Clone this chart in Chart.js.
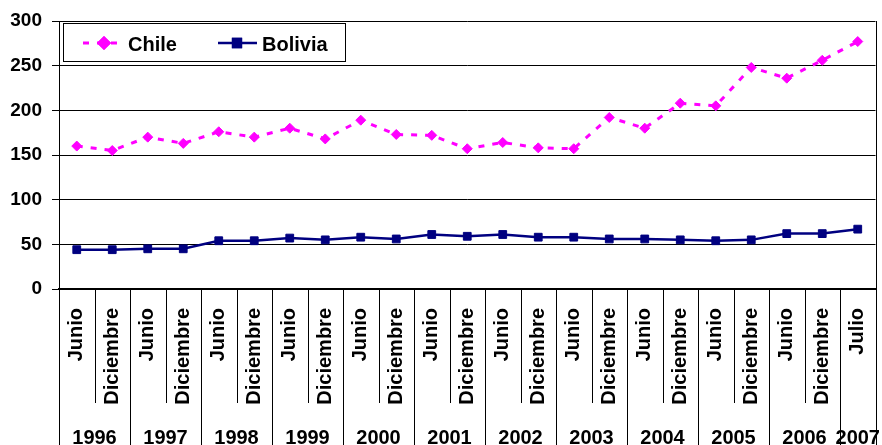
<!DOCTYPE html>
<html>
<head>
<meta charset="utf-8">
<script src="https://cdn.jsdelivr.net/npm/chart.js@4.4.0/dist/chart.umd.min.js"></script>
<style>
  html, body { margin: 0; padding: 0; background: #fff; }
  #wrap { width: 882px; height: 445px; position: relative; }
</style>
</head>
<body>
<div id="wrap"><canvas id="c" width="882" height="445"></canvas></div>
<script>
const periodLabels = ['Junio','Diciembre','Junio','Diciembre','Junio','Diciembre','Junio','Diciembre','Junio','Diciembre','Junio','Diciembre','Junio','Diciembre','Junio','Diciembre','Junio','Diciembre','Junio','Diciembre','Junio','Diciembre','Julio'];
const periodYears = ['1996','1996','1997','1997','1998','1998','1999','1999','2000','2000','2001','2001','2002','2002','2003','2003','2004','2004','2005','2005','2006','2006','2007'];
const chileValues = [160,155,170,163,176,170,180,168,189,173,172,157,164,158,157,192,180,208,205,248,236,256,277];
const boliviaValues = [44,44,45,45,54,54,57,55,58,56,61,59,61,58,58,56,56,55,54,55,62,62,67];
const yTicks = [0,50,100,150,200,250,300];
const seriesNames = ['Chile','Bolivia'];

const FONT = 'Liberation Sans, Arial, sans-serif';

const decorPlugin = {
  id: 'decor',
  afterDraw(chart) {
    const ctx = chart.ctx;
    const xs = chart.scales.x;
    const area = chart.chartArea;
    const H = chart.height;
    const n = periodLabels.length;
    ctx.save();
    ctx.strokeStyle = '#000';
    ctx.lineWidth = 1;
    // separators
    for (let i = 0; i <= n; i++) {
      const x = Math.round(xs.getPixelForValue(i - 0.5)) + 0.5;
      const yearBoundary = (i === 0 || i === n || periodYears[i] !== periodYears[i - 1]);
      const yEnd = yearBoundary ? H : area.bottom + 114;
      ctx.beginPath();
      ctx.moveTo(x, area.bottom);
      ctx.lineTo(x, yEnd);
      ctx.stroke();
    }
    // right border of plot
    ctx.beginPath();
    ctx.moveTo(Math.round(area.right) + 0.5, area.top);
    ctx.lineTo(Math.round(area.right) + 0.5, area.bottom);
    ctx.stroke();
    // year labels
    ctx.fillStyle = '#000';
    ctx.font = 'bold 20px ' + FONT;
    ctx.textAlign = 'center';
    ctx.textBaseline = 'top';
    let start = 0;
    for (let i = 1; i <= n; i++) {
      if (i === n || periodYears[i] !== periodYears[start]) {
        const x0 = xs.getPixelForValue(start - 0.5);
        const x1 = xs.getPixelForValue(i - 0.5);
        ctx.fillText(periodYears[start], (x0 + x1) / 2, 428);
        start = i;
      }
    }
    // legend box
    const bx = area.left + 4, by = area.top + 2, bw = 282, bh = 38;
    ctx.fillStyle = '#fff';
    ctx.fillRect(bx, by, bw, bh);
    ctx.strokeRect(bx + 0.5, by + 0.5, bw, bh);
    const items = [
      { lx0: 20, lx1: 57, px: 41, tx: 65 },
      { lx0: 155, lx1: 194, px: 174, tx: 199 }
    ];
    chart.data.datasets.forEach((ds, k) => {
      const it = items[k];
      const cy = by + bh / 2 + 1;
      ctx.save();
      ctx.strokeStyle = ds.borderColor;
      ctx.lineWidth = ds.borderWidth;
      ctx.setLineDash(ds.borderDash || []);
      ctx.beginPath();
      ctx.moveTo(bx + it.lx0, cy);
      ctx.lineTo(bx + it.lx1, cy);
      ctx.stroke();
      ctx.setLineDash([]);
      Chart.helpers.drawPoint(ctx, {
        pointStyle: ds.pointStyle, radius: ds.pointRadius, borderWidth: 1, rotation: 0
      }, bx + it.px, cy);
      ctx.fillStyle = ds.pointBackgroundColor;
      ctx.strokeStyle = ds.pointBorderColor;
      ctx.fill();
      ctx.stroke();
      ctx.restore();
      ctx.fillStyle = '#000';
      ctx.font = 'bold 20px ' + FONT;
      ctx.textAlign = 'left';
      ctx.textBaseline = 'middle';
      ctx.fillText(ds.label, bx + it.tx, cy + 2);
    });
    ctx.restore();
  }
};

new Chart(document.getElementById('c'), {
  type: 'line',
  data: {
    labels: periodLabels,
    datasets: [
      {
        label: seriesNames[0],
        data: chileValues,
        borderColor: '#FF00FF',
        backgroundColor: '#FF00FF',
        borderWidth: 3,
        borderDash: [6, 8],
        pointStyle: 'rectRot',
        pointRadius: 5,
        pointBackgroundColor: '#FF00FF',
        pointBorderColor: '#FF00FF',
        pointBorderWidth: 1,
        tension: 0,
        fill: false
      },
      {
        label: seriesNames[1],
        data: boliviaValues,
        borderColor: '#000080',
        backgroundColor: '#000080',
        borderWidth: 2.5,
        pointStyle: 'rect',
        pointRadius: 5.5,
        pointBackgroundColor: '#000080',
        pointBorderColor: '#000080',
        pointBorderWidth: 1,
        tension: 0,
        fill: false
      }
    ]
  },
  options: {
    responsive: false,
    animation: false,
    layout: { padding: { left: 0, right: 6, top: 21, bottom: 0 } },
    plugins: {
      legend: { display: false },
      tooltip: { enabled: false }
    },
    scales: {
      x: {
        type: 'category',
        offset: true,
        afterFit(s) { s.height = 156; s.paddingLeft = 0; s.paddingRight = 0; },
        grid: { display: false, drawTicks: false },
        border: { display: true, color: '#000', width: 2 },
        ticks: {
          autoSkip: false,
          maxRotation: 90,
          minRotation: 90,
          padding: 19,
          color: '#000',
          font: { family: FONT, size: 20, weight: 'bold' }
        }
      },
      y: {
        min: 0,
        max: 300,
        afterFit(s) { s.width = 59; s.paddingTop = 0; s.paddingBottom = 0; },
        afterBuildTicks(s) { s.ticks = yTicks.map(v => ({ value: v })); },
        grid: { color: '#000', lineWidth: 1, tickLength: 7, drawTicks: true },
        border: { display: true, color: '#000', width: 1 },
        ticks: {
          padding: 10,
          color: '#000',
          font: { family: FONT, size: 19, weight: 'bold' }
        }
      }
    }
  },
  plugins: [decorPlugin]
});
</script>
</body>
</html>
